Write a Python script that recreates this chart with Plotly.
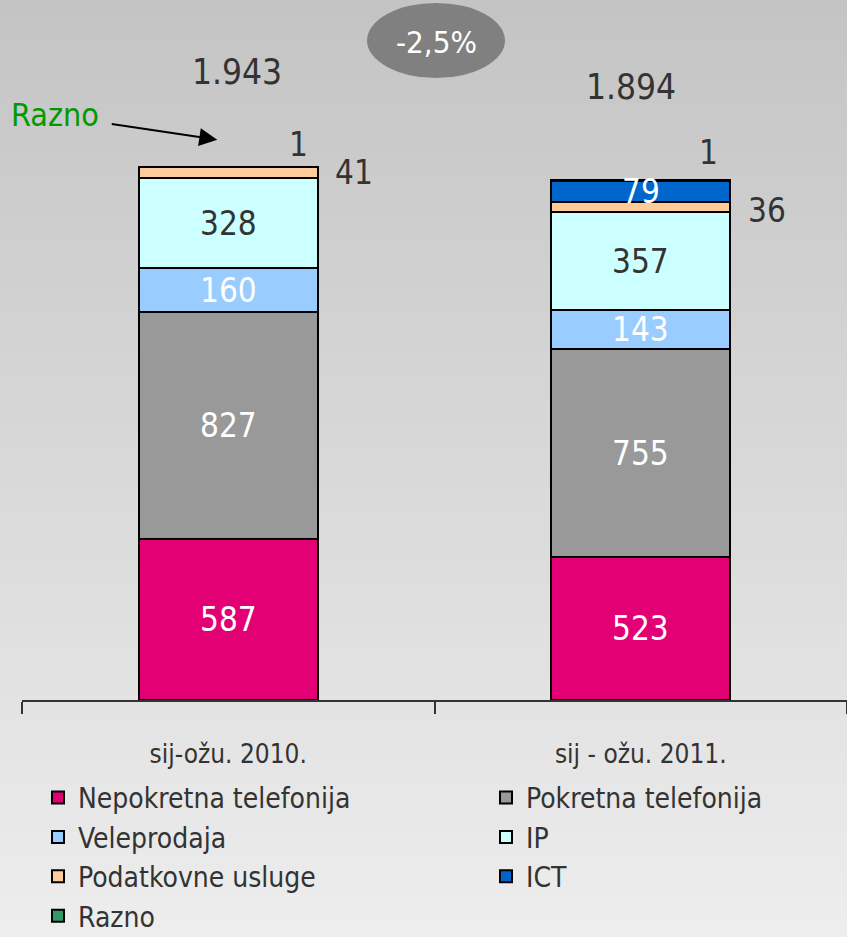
import plotly.graph_objects as go

categories = ["sij-ožu. 2010.", "sij - ožu. 2011."]
series_names = ["Nepokretna telefonija", "Pokretna telefonija", "Veleprodaja", "IP",
                "Podatkovne usluge", "ICT", "Razno"]
nepokretna = [587, 523]
pokretna = [827, 755]
veleprodaja = [160, 143]
ip = [328, 357]
podatkovne = [41, 36]
ict = [0, 79]
razno = [1, 1]
totals_label = ["1.943", "1.894"]
change_label = "-2,5%"

series_values = [nepokretna, pokretna, veleprodaja, ip, podatkovne, ict, razno]
colors = ["#e20074", "#999999", "#99ccff", "#ccffff", "#ffcc99", "#0066cc", "#339966"]
label_colors = ["white", "white", "white", "#333333", "#333333", "white", "#333333"]
legend_of = ["legend", "legend2", "legend", "legend2", "legend", "legend2", "legend"]

FONT = "DejaVu Sans Condensed, Liberation Sans Narrow, Arial Narrow, sans-serif"

fig = go.Figure()
for name, vals, col, lg in zip(series_names, series_values, colors, legend_of):
    fig.add_trace(go.Bar(
        x=categories, y=vals, name=name, legend=lg,
        marker=dict(color=col, line=dict(color="black", width=2)),
        width=0.435, hoverinfo="skip"))

annotations = []
cum = [0, 0]
for si, (vals, lc) in enumerate(zip(series_values, label_colors)):
    for ci, v in enumerate(vals):
        base = cum[ci]
        cum[ci] += v
        if v <= 0:
            continue
        name = series_names[si]
        if name == "Podatkovne usluge":
            annotations.append(dict(x=categories[ci], y=base + v / 2, text=str(v), showarrow=False,
                                    xshift=126, yshift=[0, -3][ci],
                                    font=dict(size=33, color="#333333", family=FONT)))
        elif name == "Razno":
            annotations.append(dict(x=categories[ci], y=base + v, text=str(v), showarrow=False,
                                    xshift=[70, 68][ci], yshift=[22, 28][ci],
                                    font=dict(size=33, color="#333333", family=FONT)))
        else:
            annotations.append(dict(x=categories[ci], y=base + v / 2, text=str(v), showarrow=False,
                                    font=dict(size=33, color=lc, family=FONT)))

for ci, t in enumerate(totals_label):
    annotations.append(dict(x=categories[ci], y=cum[ci], text=t, showarrow=False,
                            xshift=[9, -10][ci], yshift=[95, 93][ci],
                            font=dict(size=35, color="#333333", family=FONT)))

# Razno callout
annotations.append(dict(x=categories[0], y=cum[0], text="", showarrow=True, arrowhead=2,
                        arrowsize=1.8, arrowwidth=2, arrowcolor="black",
                        xshift=-11, yshift=27, ax=-107, ay=-16))
annotations.append(dict(x=categories[0], y=cum[0], text="Razno", showarrow=False,
                        xshift=-173, yshift=52, font=dict(size=32, color="#009900", family=FONT)))

annotations.append(dict(x=(436 - 22) / 825, y=(700 - 42) / 700, xref="paper", yref="paper",
                        xanchor="center", yanchor="middle",
                        text=change_label, showarrow=False,
                        font=dict(size=31, color="white", family=FONT)))

shapes = []
N = 90
H = 937
for i in range(N):
    t = i / (N - 1)
    c = int(round(196 + (237 - 196) * t))
    y_top_px = H * i / N - 1
    y_bot_px = H * (i + 1) / N + 1
    shapes.append(dict(type="rect", xref="paper", yref="paper", layer="below",
                       x0=-30 / 825, x1=1.02,
                       y0=(700 - y_bot_px) / 700, y1=(700 - y_top_px) / 700,
                       line=dict(width=0), fillcolor=f"rgb({c},{c},{c})"))
shapes.append(dict(type="circle", xref="paper", yref="paper", layer="above",
                   x0=(367 - 22) / 825, x1=(505 - 22) / 825,
                   y0=(700 - 78) / 700, y1=(700 - 3) / 700,
                   line=dict(width=0), fillcolor="#808080"))

legend_font = dict(size=28, color="#333333", family=FONT)
fig.update_layout(
    width=847, height=937,
    margin=dict(l=22, r=0, t=0, b=237, autoexpand=False),
    barmode="stack",
    paper_bgcolor="#e0e0e0",
    plot_bgcolor="rgba(0,0,0,0)",
    showlegend=True,
    legend=dict(orientation="v", x=(38 - 22) / 825, xanchor="left", y=-0.104, yanchor="top",
                font=legend_font, bgcolor="rgba(0,0,0,0)", traceorder="normal",
                itemclick=False, itemdoubleclick=False),
    legend2=dict(orientation="v", x=(486 - 22) / 825, xanchor="left", y=-0.104, yanchor="top",
                 font=legend_font, bgcolor="rgba(0,0,0,0)", traceorder="normal",
                 itemclick=False, itemdoubleclick=False),
    xaxis=dict(type="category", range=[-0.5, 1.5], showline=True, linecolor="#333333", linewidth=1.5,
               ticks="outside", tickson="boundaries", ticklen=12, tickcolor="#333333", tickwidth=1.5,
               showgrid=False, tickfont=dict(size=26, color="#333333", family=FONT),
               ticklabelstandoff=30),
    yaxis=dict(range=[0, 2552], visible=False, showgrid=False, zeroline=False),
    annotations=annotations,
    shapes=shapes,
    bargap=0,
)

fig.write_html("out.html", config={"displayModeBar": False},
               post_script="document.body.style.margin='0';document.body.style.overflow='hidden';")
